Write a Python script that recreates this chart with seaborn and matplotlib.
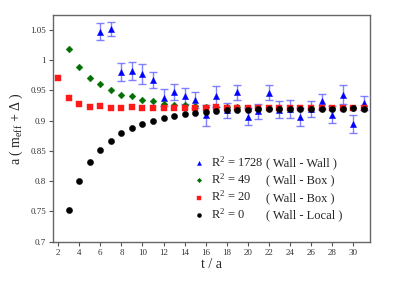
import numpy as np
import pandas as pd
import matplotlib
matplotlib.use("Agg")
import matplotlib.pyplot as plt
import seaborn as sns

# ---- data ----
t_red = list(range(2, 32))
red = [0.971, 0.937, 0.928, 0.923, 0.924, 0.921, 0.921, 0.922, 0.920, 0.920,
       0.921, 0.920, 0.921, 0.921, 0.921, 0.922, 0.921, 0.921, 0.920, 0.920,
       0.921, 0.920, 0.921, 0.920, 0.920, 0.920, 0.920, 0.921, 0.921, 0.920]

t_green = list(range(3, 32))
green = [1.019, 0.988, 0.971, 0.961, 0.951, 0.943, 0.940, 0.934, 0.932, 0.928,
         0.926, 0.925, 0.924, 0.923, 0.922, 0.922, 0.922, 0.921, 0.921, 0.921,
         0.921, 0.921, 0.920, 0.921, 0.920, 0.921, 0.920, 0.921, 0.920]

t_black = list(range(3, 32))
black = [0.752, 0.800, 0.831, 0.852, 0.867, 0.879, 0.888, 0.895, 0.900, 0.905,
         0.908, 0.911, 0.913, 0.914, 0.916, 0.917, 0.918, 0.918, 0.919, 0.919,
         0.919, 0.919, 0.919, 0.919, 0.919, 0.919, 0.919, 0.920, 0.919]

t_blue = list(range(6, 32))
blue = [1.047, 1.051, 0.980, 0.982, 0.977, 0.967, 0.938, 0.947, 0.941, 0.934,
        0.909, 0.940, 0.917, 0.947, 0.906, 0.915, 0.946, 0.918, 0.919, 0.906,
        0.919, 0.932, 0.910, 0.943, 0.894, 0.929]
blue_err = [0.0137, 0.012, 0.0153, 0.0153, 0.016, 0.0136, 0.0145, 0.013, 0.0128, 0.014,
            0.0172, 0.017, 0.012, 0.0125, 0.014, 0.012, 0.012, 0.0136, 0.015, 0.0147,
            0.0136, 0.0125, 0.0144, 0.0158, 0.015, 0.0117]

labels = ["R$^2$ = 1728", "R$^2$ = 49", "R$^2$ = 20", "R$^2$ = 0"]
notes = ["( Wall - Wall )", "( Wall - Box )", "( Wall - Box )", "( Wall - Local )"]
x_ticks = list(range(2, 31, 2))
y_ticks = [0.7, 0.75, 0.8, 0.85, 0.9, 0.95, 1.0, 1.05]
y_ticklabels = ["0.7", "0.75", "0.8", "0.85", "0.9", "0.95", "1", "1.05"]

# ---- style ----
sns.set_style("white")
plt.rcParams['font.family'] = ['Liberation Serif', 'DejaVu Serif']
plt.rcParams['mathtext.fontset'] = 'custom'
plt.rcParams['mathtext.rm'] = 'Liberation Serif'
plt.rcParams['mathtext.it'] = 'Liberation Serif:italic'

fig = plt.figure(figsize=(4.07, 2.87), dpi=100)
ax = fig.add_axes([0.130, 0.158, 0.779, 0.791])

ax.errorbar(t_blue, blue, yerr=blue_err, fmt='none', ecolor=(0.35, 0.35, 1.0, 0.75),
            elinewidth=1.0, capsize=3.2, capthick=1.0, zorder=1)

df_blue = pd.DataFrame({"t": t_blue, "v": blue})
df_green = pd.DataFrame({"t": t_green, "v": green})
df_red = pd.DataFrame({"t": t_red, "v": red})
df_black = pd.DataFrame({"t": t_black, "v": black})

sns.scatterplot(data=df_blue, x="t", y="v", marker="^", color="#0000ff", s=20,
                edgecolor="#0000ff", linewidth=0.3, ax=ax, label=labels[0], zorder=3)
sns.scatterplot(data=df_green, x="t", y="v", marker="D", color="#006e00", s=12,
                edgecolor="#006e00", linewidth=0.3, ax=ax, label=labels[1], zorder=3)
sns.scatterplot(data=df_red, x="t", y="v", marker="s", color="#ff1a1a", s=18,
                edgecolor="#ff1a1a", linewidth=0.3, ax=ax, label=labels[2], zorder=4)
sns.scatterplot(data=df_black, x="t", y="v", marker="o", color="black", s=20,
                edgecolor="black", linewidth=0.3, ax=ax, label=labels[3], zorder=5)

ax.set_xlim(1.5, 31.6)
ax.set_ylim(0.7, 1.075)
ax.set_xticks(x_ticks)
ax.set_xticklabels([str(v) for v in x_ticks])
ax.set_yticks(y_ticks)
ax.set_yticklabels(y_ticklabels)
ax.tick_params(axis='both', which='major', direction='out', length=3, width=0.8,
               colors='#555555', labelsize=6.5, labelcolor='#333333', pad=2)
ax.tick_params(top=False, right=False, bottom=True, left=True)
for sp in ax.spines.values():
    sp.set_color('#666666')
    sp.set_linewidth(1.0)

ax.set_xlabel("t / a", fontsize=10, labelpad=1)
ax.set_ylabel("a ( m$_{\\rm eff}$ + Δ )", fontsize=10, labelpad=4)

leg = ax.legend(loc='upper left', bbox_to_anchor=(0.422, 0.405), frameon=False,
                fontsize=9, handletextpad=0.35, markerscale=0.65, labelspacing=0.22,
                borderaxespad=0, handlelength=1.2)

fig.canvas.draw()
inv = ax.transAxes.inverted()
for txt, note in zip(leg.get_texts(), notes):
    bb = txt.get_window_extent()
    yc = inv.transform((0, bb.y0))[1]
    xn = inv.transform((266, 0))[0]
    ax.text(xn, yc, note, transform=ax.transAxes, fontsize=9, va='bottom', ha='left')

fig.savefig("out.png", dpi=100)
